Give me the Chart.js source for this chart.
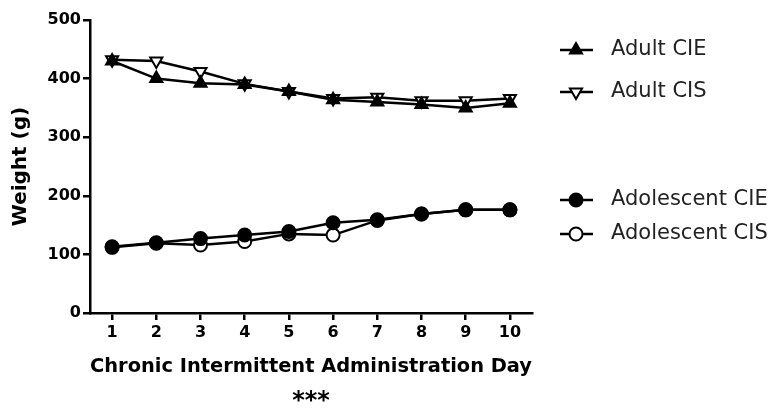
<!DOCTYPE html>
<html>
<head>
<meta charset="utf-8">
<script src="https://cdn.jsdelivr.net/npm/chart.js@4/dist/chart.umd.min.js"></script>
<style>
  html, body { margin: 0; padding: 0; background: #fff; }
  #wrap { width: 779px; height: 408px; position: relative; }
</style>
</head>
<body>
<div id="wrap"><canvas id="grafico"></canvas></div>
<script>
// dias de administração
const dias = ["1", "2", "3", "4", "5", "6", "7", "8", "9", "10"];

// pesos (g)
const adultoCIE = [430, 400, 392, 390, 378, 364, 360, 356, 350, 358];
const adultoCIS = [432, 430, 412, 391, 378, 366, 368, 362, 362, 366];
const adolescenteCIE = [113, 120, 127, 133, 139, 154, 159, 169, 176, 176];
const adolescenteCIS = [112, 119, 116, 122, 135, 133, 158, 169, 176, 176];

const yTicks = [0, 100, 200, 300, 400, 500];

const fonteNegrito = "'DejaVu Sans', Verdana, sans-serif";

// legenda desenhada à mão (grupos separados como no original)
const legendaPlugin = {
  id: "legendaManual",
  afterDraw(chart) {
    const ctx = chart.ctx;
    const itens = [
      { ds: 0, y: 50 },
      { ds: 1, y: 92 },
      { ds: 2, y: 200 },
      { ds: 3, y: 234 },
    ];
    ctx.save();
    itens.forEach((it) => {
      const ds = chart.data.datasets[it.ds];
      ctx.strokeStyle = "#000";
      ctx.lineWidth = 2.5;
      ctx.beginPath();
      ctx.moveTo(560, it.y);
      ctx.lineTo(593, it.y);
      ctx.stroke();
      ctx.fillStyle = ds.pointBackgroundColor;
      ctx.strokeStyle = "#000";
      ctx.lineWidth = 2;
      Chart.helpers.drawPoint(
        ctx,
        {
          pointStyle: ds.pointStyle,
          radius: ds.pointRadius,
          rotation: ds.pointRotation || 0,
          borderWidth: 2,
        },
        576,
        it.y
      );
      ctx.fillStyle = "#222";
      ctx.font = "21px 'DejaVu Sans', Verdana, sans-serif";
      ctx.textBaseline = "middle";
      ctx.textAlign = "left";
      ctx.fillText(ds.label, 611, it.y);
    });
    // asteriscos abaixo do eixo
    ctx.fillStyle = "#000";
    ctx.font = "bold 24px " + fonteNegrito;
    ctx.textAlign = "center";
    ctx.textBaseline = "middle";
    ctx.fillText("***", 311, 402);
    ctx.restore();
  },
};

function serie(label, dados, estilo, rotacao, preenchido) {
  return {
    label: label,
    data: dados,
    borderColor: "#000",
    borderWidth: 2.5,
    pointStyle: estilo,
    pointRotation: rotacao,
    pointRadius: estilo === "circle" ? 6.5 : 7,
    pointHoverRadius: 7,
    pointBorderWidth: 2,
    pointBorderColor: "#000",
    pointBackgroundColor: preenchido ? "#000" : "#fff",
    tension: 0,
    fill: false,
  };
}

const ctx = document.getElementById("grafico").getContext("2d");
new Chart(ctx, {
  type: "line",
  data: {
    labels: dias,
    datasets: [
      serie("Adult CIE", adultoCIE, "triangle", 0, true),
      serie("Adult CIS", adultoCIS, "triangle", 180, false),
      serie("Adolescent CIE", adolescenteCIE, "circle", 0, true),
      serie("Adolescent CIS", adolescenteCIS, "circle", 0, false),
    ],
  },
  options: {
    responsive: true,
    maintainAspectRatio: false,
    animation: false,
    layout: { padding: { top: 20, right: 247, bottom: 0, left: 0 } },
    plugins: {
      legend: { display: false },
      tooltip: { enabled: false },
    },
    scales: {
      x: {
        offset: true,
        afterFit: (scale) => {
          scale.height = 95;
        },
        border: { color: "#000", width: 2.5 },
        grid: {
          drawOnChartArea: false,
          drawTicks: true,
          tickLength: 7,
          color: "#000",
          lineWidth: 2.5,
          offset: false,
        },
        ticks: {
          color: "#000",
          padding: 3,
          maxRotation: 0,
          font: { size: 16, weight: "bold", family: fonteNegrito },
        },
        title: {
          display: true,
          text: "Chronic Intermittent Administration Day",
          color: "#000",
          padding: { top: 0, bottom: 29 },
          font: { size: 20, weight: "bold", family: fonteNegrito },
        },
      },
      y: {
        min: 0,
        max: 500,
        afterBuildTicks: (scale) => {
          scale.ticks = yTicks.map((v) => ({ value: v }));
        },
        afterFit: (scale) => {
          scale.width = 90;
        },
        border: { color: "#000", width: 2.5 },
        grid: {
          drawOnChartArea: false,
          drawTicks: true,
          tickLength: 7,
          color: "#000",
          lineWidth: 2.5,
        },
        ticks: {
          color: "#000",
          padding: 2,
          font: { size: 16, weight: "bold", family: fonteNegrito },
        },
        title: {
          display: true,
          text: "Weight (g)",
          color: "#000",
          padding: { top: 9, bottom: 0 },
          font: { size: 20, weight: "bold", family: fonteNegrito },
        },
      },
    },
  },
  plugins: [legendaPlugin],
});
</script>
</body>
</html>
